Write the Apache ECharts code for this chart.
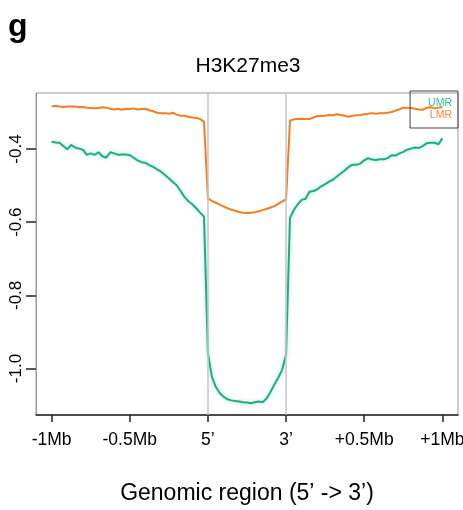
<!DOCTYPE html>
<html>
<head>
<meta charset="utf-8">
<script src="https://cdn.jsdelivr.net/npm/echarts@6/dist/echarts.min.js"></script>
<style>
html,body{margin:0;padding:0;background:#fff;}
#chart{width:463px;height:510px;}
</style>
</head>
<body>
<div id="chart"></div>
<script>
// ---- data ----
var seriesNames = ['UMR', 'LMR'];
var xTickValues = [0, 1, 2, 3, 4, 5];
var xTickLabels = ['-1Mb', '-0.5Mb', '5\u2019', '3\u2019', '+0.5Mb', '+1Mb'];
var yTickValues = [-0.4, -0.6, -0.8, -1.0];
var yTickLabels = ['-0.4', '-0.6', '-0.8', '-1.0'];

var leftX = [0,0.05,0.1,0.15,0.2,0.25,0.3,0.35,0.4,0.45,0.5,0.55,0.6,0.65,0.7,0.75,0.8,0.85,0.9,0.95,
             1,1.05,1.1,1.15,1.2,1.25,1.3,1.35,1.4,1.45,1.5,1.55,1.6,1.65,1.7,1.75,1.8,1.85,1.9,1.95];
var bodyX = [2,2.05,2.1,2.15,2.2,2.25,2.3,2.35,2.4,2.45,2.5,2.55,2.6,2.65,2.7,2.75,2.8,2.85,2.9,2.95,3];
var rightX = [3.05,3.1,3.15,3.2,3.25,3.3,3.35,3.4,3.45,3.5,3.55,3.6,3.65,3.7,3.75,3.8,3.85,3.9,3.95,4,
              4.05,4.1,4.15,4.2,4.25,4.3,4.35,4.4,4.45,4.5,4.55,4.6,4.65,4.7,4.75,4.8,4.85,4.9,4.95,5];

var lmrLeft = [-0.284,-0.282,-0.284,-0.285,-0.284,-0.284,-0.284,-0.286,-0.285,-0.287,-0.288,-0.289,-0.288,-0.286,-0.287,-0.290,-0.292,-0.290,-0.293,-0.290,
               -0.291,-0.289,-0.292,-0.291,-0.290,-0.294,-0.297,-0.301,-0.302,-0.302,-0.304,-0.301,-0.306,-0.309,-0.309,-0.312,-0.314,-0.315,-0.318,-0.326];
var lmrBody = [-0.535,-0.542,-0.547,-0.552,-0.557,-0.562,-0.566,-0.569,-0.572,-0.574,-0.575,-0.574,-0.573,-0.570,-0.567,-0.564,-0.560,-0.556,-0.550,-0.544,-0.537];
var lmrRight = [-0.323,-0.319,-0.318,-0.318,-0.318,-0.318,-0.314,-0.310,-0.310,-0.309,-0.307,-0.308,-0.305,-0.307,-0.309,-0.312,-0.309,-0.308,-0.307,-0.305,
                -0.304,-0.302,-0.304,-0.302,-0.302,-0.301,-0.299,-0.295,-0.292,-0.287,-0.287,-0.288,-0.290,-0.292,-0.293,-0.287,-0.286,-0.289,-0.287,-0.285];

var umrLeft = [-0.380,-0.382,-0.383,-0.392,-0.401,-0.389,-0.396,-0.399,-0.402,-0.416,-0.412,-0.416,-0.409,-0.420,-0.424,-0.409,-0.412,-0.416,-0.415,-0.415,
               -0.417,-0.424,-0.431,-0.436,-0.438,-0.444,-0.449,-0.456,-0.462,-0.471,-0.480,-0.490,-0.499,-0.515,-0.531,-0.543,-0.551,-0.562,-0.574,-0.585];
var umrBody = [-0.958,-1.022,-1.050,-1.067,-1.077,-1.084,-1.087,-1.089,-1.090,-1.092,-1.093,-1.095,-1.092,-1.090,-1.092,-1.082,-1.064,-1.044,-1.025,-1.003,-0.962];
var umrRight = [-0.589,-0.566,-0.551,-0.539,-0.536,-0.517,-0.515,-0.510,-0.502,-0.496,-0.489,-0.484,-0.475,-0.467,-0.459,-0.449,-0.443,-0.443,-0.440,-0.431,
                -0.425,-0.429,-0.430,-0.428,-0.428,-0.425,-0.417,-0.418,-0.412,-0.408,-0.402,-0.399,-0.396,-0.397,-0.392,-0.384,-0.383,-0.383,-0.387,-0.371];

var boundaryMarks = [2, 3];

// ---- build ----
function pairs(xs, ys) { return xs.map(function (x, i) { return [x, ys[i]]; }); }
var allX = leftX.concat(bodyX, rightX);
var umrData = pairs(allX, umrLeft.concat(umrBody, umrRight));
var lmrData = pairs(allX, lmrLeft.concat(lmrBody, lmrRight));

var GREEN = '#1bae86';
var ORANGE = '#f57d1f';
var FONT = 'Liberation Sans, Arial, Helvetica, sans-serif';

var chart = echarts.init(document.getElementById('chart'), null, {renderer: 'canvas'});
chart.setOption({
  animation: false,
  backgroundColor: '#ffffff',
  textStyle: {fontFamily: FONT},
  title: [
    {text: 'g', left: 3, top: 6, textStyle: {fontFamily: FONT, fontSize: 32, fontWeight: 'bold', color: '#000'}},
    {text: 'H3K27me3', left: 243, top: 51, textAlign: 'center', textStyle: {fontFamily: FONT, fontSize: 21, fontWeight: 'normal', color: '#000'}}
  ],
  legend: {
    orient: 'vertical', right: 5, top: 91,
    align: 'right',
    data: [
      {name: 'UMR', textStyle: {color: '#2cbd93'}},
      {name: 'LMR', textStyle: {color: '#f5883c'}}
    ],
    icon: 'rect', itemWidth: 0, itemHeight: 11, itemGap: 1,
    itemStyle: {opacity: 0}, lineStyle: {opacity: 0},
    borderColor: '#444', borderWidth: 1, borderRadius: 0,
    padding: [7, 1, 7, 18],
    selectedMode: false,
    textStyle: {fontFamily: FONT, fontSize: 10.5, padding: 0}
  },
  grid: {left: 36, right: 5, top: 93, bottom: 95, show: true, borderColor: '#999', borderWidth: 1, containLabel: false, outerBoundsMode: 'none'},
  xAxis: {
    type: 'value', min: -0.2, max: 5.2,
    name: 'Genomic region (5\u2019 -> 3\u2019)', nameLocation: 'middle', nameGap: 67,
    nameTextStyle: {fontFamily: FONT, fontSize: 23, color: '#000'},
    axisLine: {show: true, onZero: false, lineStyle: {color: '#222', width: 1.5}},
    axisTick: {show: true, customValues: xTickValues, length: 7, lineStyle: {color: '#222', width: 1.5}},
    axisLabel: {
      customValues: xTickValues, margin: 16, fontSize: 17.5, color: '#000', fontFamily: FONT,
      formatter: function (v) { var i = xTickValues.indexOf(Math.round(v)); return i >= 0 ? xTickLabels[i] : ''; }
    },
    splitLine: {show: false}
  },
  yAxis: {
    type: 'value', min: -1.127, max: -0.247,
    position: 'left',
    axisLine: {show: true, onZero: false, lineStyle: {color: '#999', width: 1}},
    axisTick: {show: true, inside: false, customValues: yTickValues, length: 10, lineStyle: {color: '#222', width: 1.5}},
    axisLabel: {
      customValues: yTickValues, rotate: 90, margin: 11, fontSize: 17, color: '#000', fontFamily: FONT,
      formatter: function (v) {
        for (var i = 0; i < yTickValues.length; i++) { if (Math.abs(yTickValues[i] - v) < 1e-6) return yTickLabels[i]; }
        return '';
      }
    },
    splitLine: {show: false}
  },
  series: [
    {
      name: seriesNames[0], type: 'line', data: umrData, showSymbol: false, symbol: 'none',
      color: GREEN,
      lineStyle: {color: GREEN, width: 2, shadowColor: 'rgba(27,174,134,0.35)', shadowBlur: 4},
      z: 3,
      markLine: {
        silent: true, symbol: 'none', label: {show: false},
        lineStyle: {color: '#c4c4c4', width: 1.5, type: 'solid'},
        data: boundaryMarks.map(function (v) { return {xAxis: v}; })
      }
    },
    {
      name: seriesNames[1], type: 'line', data: lmrData, showSymbol: false, symbol: 'none',
      color: ORANGE,
      lineStyle: {color: ORANGE, width: 2},
      z: 3
    }
  ]
});
</script>
</body>
</html>
